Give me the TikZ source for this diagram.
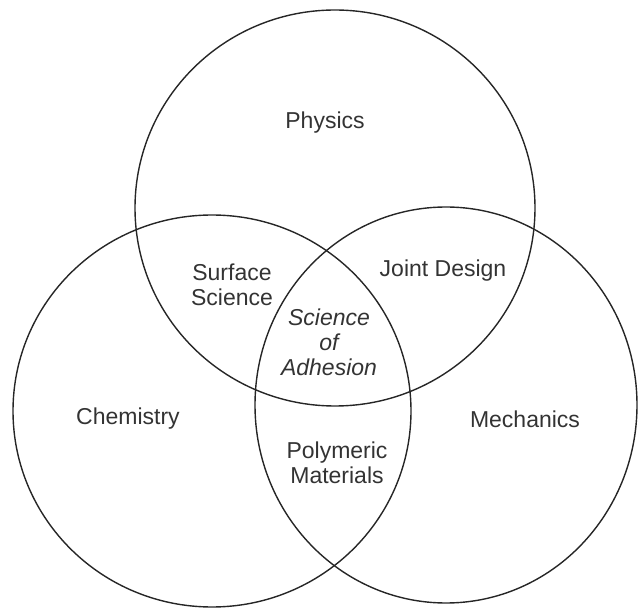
\documentclass[tikz,border=0pt]{standalone}
\usepackage{fontspec}
\setmainfont{Liberation Sans}
\begin{document}
\begin{tikzpicture}[x=0.5pt,y=-0.5pt,
  ring/.style={draw=black!85,line width=0.7pt},
  lbl/.style={text=black!80,font=\fontsize{11.5}{12.5}\selectfont,align=center,inner sep=0pt},
  ilbl/.style={lbl,font=\fontsize{11.5}{12.5}\selectfont\itshape}]
\useasboundingbox (0,0) rectangle (638,609);
\draw[ring] (335,208) ellipse [x radius=200,y radius=198];
\draw[ring] (212,411) ellipse [x radius=199,y radius=196];
\draw[ring] (446,405) ellipse [x radius=191,y radius=198];
\node[lbl] (phys) at (325,123) {Physics};
\node[lbl] (surf) at (232,285) {Surface\\Science};
\node[lbl] (joint) at (443,271) {Joint Design};
\node[ilbl] (adh) at (329,342) {Science\\of\\Adhesion};
\node[lbl] (chem) at (128,419) {Chemistry};
\node[lbl] (mech) at (525,419) {Mechanics};
\node[lbl] (poly) at (337,463) {Polymeric\\Materials};
\end{tikzpicture}
\end{document}
